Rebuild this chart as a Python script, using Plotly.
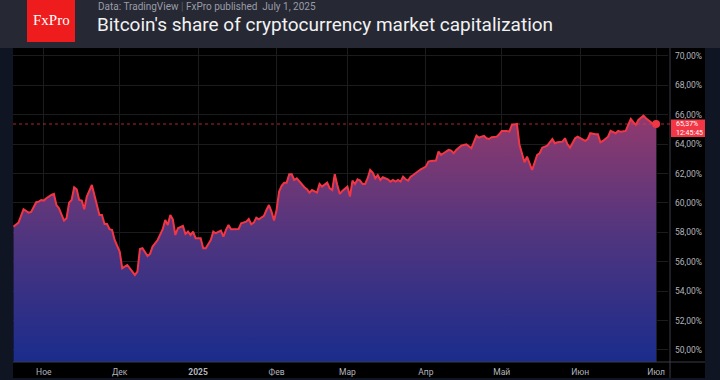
import plotly.graph_objects as go

dates = [
    "2024-10-20", "2024-10-22", "2024-10-24", "2024-10-26", "2024-10-27", "2024-10-29", "2024-10-30", "2024-10-31",
    "2024-11-01", "2024-11-02", "2024-11-04", "2024-11-05", "2024-11-06", "2024-11-07", "2024-11-09", "2024-11-10",
    "2024-11-11", "2024-11-12", "2024-11-13", "2024-11-14", "2024-11-15", "2024-11-16", "2024-11-17", "2024-11-18",
    "2024-11-20", "2024-11-21", "2024-11-22", "2024-11-23", "2024-11-24", "2024-11-25", "2024-11-26", "2024-11-27",
    "2024-11-28", "2024-11-29", "2024-12-01", "2024-12-02", "2024-12-04", "2024-12-05", "2024-12-07", "2024-12-08",
    "2024-12-09", "2024-12-10", "2024-12-12", "2024-12-13", "2024-12-14", "2024-12-16", "2024-12-18", "2024-12-19",
    "2024-12-20", "2024-12-21", "2024-12-22", "2024-12-23", "2024-12-24", "2024-12-26", "2024-12-27", "2024-12-28",
    "2024-12-29", "2024-12-30", "2024-12-31", "2025-01-02", "2025-01-03", "2025-01-04", "2025-01-06", "2025-01-07",
    "2025-01-08", "2025-01-10", "2025-01-11", "2025-01-12", "2025-01-13", "2025-01-14", "2025-01-17", "2025-01-18",
    "2025-01-20", "2025-01-21", "2025-01-22", "2025-01-23", "2025-01-24", "2025-01-25", "2025-01-27", "2025-01-28",
    "2025-01-29", "2025-01-30", "2025-01-31", "2025-02-01", "2025-02-02", "2025-02-03", "2025-02-04", "2025-02-05",
    "2025-02-06", "2025-02-07", "2025-02-08", "2025-02-09", "2025-02-10", "2025-02-12", "2025-02-13", "2025-02-14",
    "2025-02-15", "2025-02-16", "2025-02-17", "2025-02-18", "2025-02-19", "2025-02-21", "2025-02-22", "2025-02-23",
    "2025-02-24", "2025-02-25", "2025-02-26", "2025-02-27", "2025-03-01", "2025-03-02", "2025-03-03", "2025-03-04",
    "2025-03-05", "2025-03-06", "2025-03-07", "2025-03-08", "2025-03-09", "2025-03-10", "2025-03-11", "2025-03-12",
    "2025-03-13", "2025-03-14", "2025-03-15", "2025-03-17", "2025-03-18", "2025-03-19", "2025-03-20", "2025-03-21",
    "2025-03-22", "2025-03-23", "2025-03-24", "2025-03-25", "2025-03-26", "2025-03-27", "2025-03-29", "2025-03-30",
    "2025-04-01", "2025-04-02", "2025-04-03", "2025-04-05", "2025-04-06", "2025-04-07", "2025-04-08", "2025-04-10",
    "2025-04-11", "2025-04-12", "2025-04-13", "2025-04-15", "2025-04-17", "2025-04-18", "2025-04-19", "2025-04-21",
    "2025-04-22", "2025-04-23", "2025-04-24", "2025-04-25", "2025-04-26", "2025-04-27", "2025-04-29", "2025-04-30",
    "2025-05-01", "2025-05-03", "2025-05-04", "2025-05-05", "2025-05-07", "2025-05-08", "2025-05-10", "2025-05-11",
    "2025-05-13", "2025-05-15", "2025-05-16", "2025-05-17", "2025-05-19", "2025-05-21", "2025-05-22", "2025-05-23",
    "2025-05-25", "2025-05-26", "2025-05-27", "2025-05-28", "2025-05-30", "2025-05-31", "2025-06-02", "2025-06-03",
    "2025-06-04", "2025-06-05", "2025-06-07", "2025-06-08", "2025-06-09", "2025-06-10", "2025-06-12", "2025-06-13",
    "2025-06-15", "2025-06-16", "2025-06-17", "2025-06-19", "2025-06-20", "2025-06-21", "2025-06-22", "2025-06-23",
    "2025-06-24", "2025-06-26", "2025-06-27", "2025-06-29", "2025-06-30", "2025-07-01",
]

btc_dominance = [
    58.39, 58.66, 59.57, 59.34, 59.39, 60.05, 60.09, 60.20,
    60.16, 60.32, 60.54, 60.61, 59.86, 59.64, 58.80, 58.96,
    60.02, 60.20, 61.07, 60.93, 60.20, 60.16, 59.57, 60.43,
    61.22, 60.54, 59.98, 59.18, 59.18, 58.57, 58.57, 58.21,
    58.16, 57.48, 56.69, 55.56, 55.78, 55.56, 55.10, 55.33,
    56.87, 56.92, 56.39, 56.53, 57.03, 57.48, 58.21, 58.84,
    58.50, 59.18, 58.89, 57.82, 58.28, 58.44, 57.89, 58.05,
    57.82, 58.05, 57.60, 57.60, 56.92, 56.92, 57.48, 58.05,
    57.94, 58.12, 57.71, 58.16, 58.50, 58.21, 58.23, 58.62,
    58.73, 58.91, 58.55, 58.66, 59.00, 58.89, 59.12, 59.52,
    59.86, 59.41, 58.80, 59.52, 60.77, 61.16, 61.38, 61.38,
    61.95, 61.95, 61.56, 61.68, 61.45, 61.07, 60.93, 60.70,
    60.88, 60.77, 60.70, 61.29, 61.11, 61.38, 61.00, 60.88,
    61.95, 61.22, 60.61, 60.82, 61.11, 60.43, 61.52, 61.29,
    61.61, 61.52, 61.29, 61.29, 61.68, 62.24, 62.06, 61.68,
    61.90, 61.56, 61.75, 61.61, 61.45, 61.56, 61.45, 61.56,
    61.45, 61.79, 61.61, 61.52, 61.79, 61.90, 62.20, 62.29,
    62.47, 62.81, 62.86, 62.88, 63.49, 63.27, 63.38, 63.61,
    63.56, 63.38, 63.61, 63.90, 63.99, 63.83, 63.72, 64.58,
    64.44, 64.51, 64.56, 64.40, 64.35, 64.47, 64.51, 64.67,
    64.90, 64.90, 64.85, 65.31, 65.37, 63.95, 62.77, 63.15,
    62.24, 63.27, 63.38, 63.76, 63.90, 64.35, 64.06, 64.13,
    64.17, 64.40, 63.99, 63.76, 64.40, 64.51, 64.35, 64.22,
    64.35, 64.74, 64.67, 64.67, 64.13, 64.22, 64.51, 64.90,
    64.74, 64.90, 64.85, 64.90, 65.31, 65.71, 65.49, 65.31,
    65.65, 65.94, 65.76, 65.49, 65.35, 65.37,
]

month_ticks = ["2024-11-01", "2024-12-01", "2025-01-01", "2025-02-01", "2025-03-01",
               "2025-04-01", "2025-05-01", "2025-06-01", "2025-07-01"]
month_labels = ["Ное", "Дек", "<b>2025</b>", "Фев", "Мар", "Апр", "Май", "Июн", "Июл"]
y_ticks = [50, 52, 54, 56, 58, 60, 62, 64, 66, 68, 70]
y_labels = ["50,00%", "52,00%", "54,00%", "56,00%", "58,00%", "60,00%",
            "62,00%", "64,00%", "66,00%", "68,00%", "70,00%"]

last_value = btc_dominance[-1]
last_label = "65,37%"
last_time = "12:45:45"

title_text = "Bitcoin's share of cryptocurrency market capitalization"
subtitle_text = ("Data: TradingView <span style='color:#5d606b'>|</span> "
                 "FxPro published&nbsp; July 1, 2025")

W, H = 720, 380
ML, MR, MT, MB = 13, 52, 48, 18
PW, PH = W - ML - MR, H - MT - MB


def px_x(p):
    return (p - ML) / PW


def px_y(p):
    return (H - MB - p) / PH


RED = "#f23645"
FONT = "Roboto"

fig = go.Figure()

fig.add_trace(go.Scatter(
    x=dates, y=btc_dominance, mode="lines",
    line=dict(color=RED, width=2),
    fill="tozeroy",
    fillgradient=dict(type="vertical", start=49.2, stop=66.0,
                      colorscale=[[0, "#1a2c8c"], [0.5, "#4f357f"], [1, "#913a6d"]]),
    hoverinfo="skip", showlegend=False,
))
fig.add_trace(go.Scatter(
    x=[dates[-1]], y=[last_value], mode="markers",
    marker=dict(color=RED, size=8), hoverinfo="skip", showlegend=False,
))

shapes = [
    dict(type="rect", xref="paper", yref="paper", x0=0, x1=px_x(705), y0=px_y(378), y1=1,
         fillcolor="#000000", line=dict(width=0), layer="below"),
    dict(type="rect", xref="paper", yref="paper", x0=px_x(0), x1=px_x(720), y0=1, y1=px_y(0),
         fillcolor="#262834", line=dict(width=0), layer="below"),
    dict(type="rect", xref="paper", yref="paper", x0=px_x(27), x1=px_x(75), y0=px_y(42), y1=px_y(0),
         fillcolor="#ee1c1c", line=dict(width=0), layer="above"),
    dict(type="line", xref="paper", yref="paper", x0=0, x1=px_x(705), y0=0, y1=0,
         line=dict(color="#3a3d46", width=1), layer="above"),
    dict(type="line", xref="paper", yref="paper", x0=px_x(670), x1=px_x(670), y0=px_y(378), y1=1,
         line=dict(color="#3a3d46", width=1), layer="above"),
    dict(type="line", xref="paper", yref="y", x0=0, x1=px_x(670), y0=last_value, y1=last_value,
         line=dict(color="rgba(242,54,69,0.7)", width=1, dash="dot"), layer="above"),
    dict(type="rect", xref="paper", yref="paper", x0=px_x(671), x1=px_x(705), y0=px_y(137), y1=px_y(119.5),
         fillcolor=RED, line=dict(width=0), layer="above"),
]

annotations = [
    dict(text="FxPro", xref="paper", yref="paper", x=px_x(51), y=px_y(20), showarrow=False,
         font=dict(family="Liberation Serif", size=15, color="white"), xanchor="center", yanchor="middle"),
    dict(text=subtitle_text, xref="paper", yref="paper", x=px_x(96), y=px_y(6), showarrow=False,
         font=dict(family=FONT, size=10, color="#9a9da6"), xanchor="left", yanchor="middle"),
    dict(text=title_text, xref="paper", yref="paper", x=px_x(95), y=px_y(24.5), showarrow=False,
         font=dict(family=FONT, size=19, color="#f2f2f2"), xanchor="left", yanchor="middle"),
    dict(text=last_label + "<br>" + last_time,
         xref="paper", yref="paper", x=px_x(673.5), y=px_y(128.5), showarrow=False,
         xanchor="left", yanchor="middle", align="left",
         font=dict(family=FONT, size=7, color="white")),
]

fig.update_layout(
    width=W, height=H,
    margin=dict(l=ML, r=MR, t=MT, b=MB, pad=0, autoexpand=False),
    paper_bgcolor="#0f1522",
    plot_bgcolor="rgba(0,0,0,0)",
    font=dict(family=FONT, color="#b2b5be", size=9),
    shapes=shapes,
    annotations=annotations,
    xaxis=dict(
        type="date", automargin=False,
        range=["2024-10-19 20:00", "2025-07-05 17:00"],
        tickvals=month_ticks, ticktext=month_labels,
        showgrid=True, gridcolor="#1c1c1f", gridwidth=1,
        zeroline=False, showline=False, ticks="",
        ticklabelstandoff=3,
        tickfont=dict(family=FONT, size=8.5, color="#b2b5be"),
        fixedrange=True,
    ),
    yaxis=dict(
        side="right", automargin=False,
        range=[49.18, 70.54],
        tickvals=y_ticks, ticktext=y_labels,
        showgrid=True, gridcolor="#1c1c1f", gridwidth=1,
        zeroline=False, showline=False, ticks="",
        ticklabelstandoff=6,
        tickfont=dict(family=FONT, size=8.5, color="#b2b5be"),
        fixedrange=True,
    ),
)

fig.write_html("out.html", config={"displayModeBar": False},
               post_script="document.body.style.margin='0';document.body.style.overflow='hidden';")
